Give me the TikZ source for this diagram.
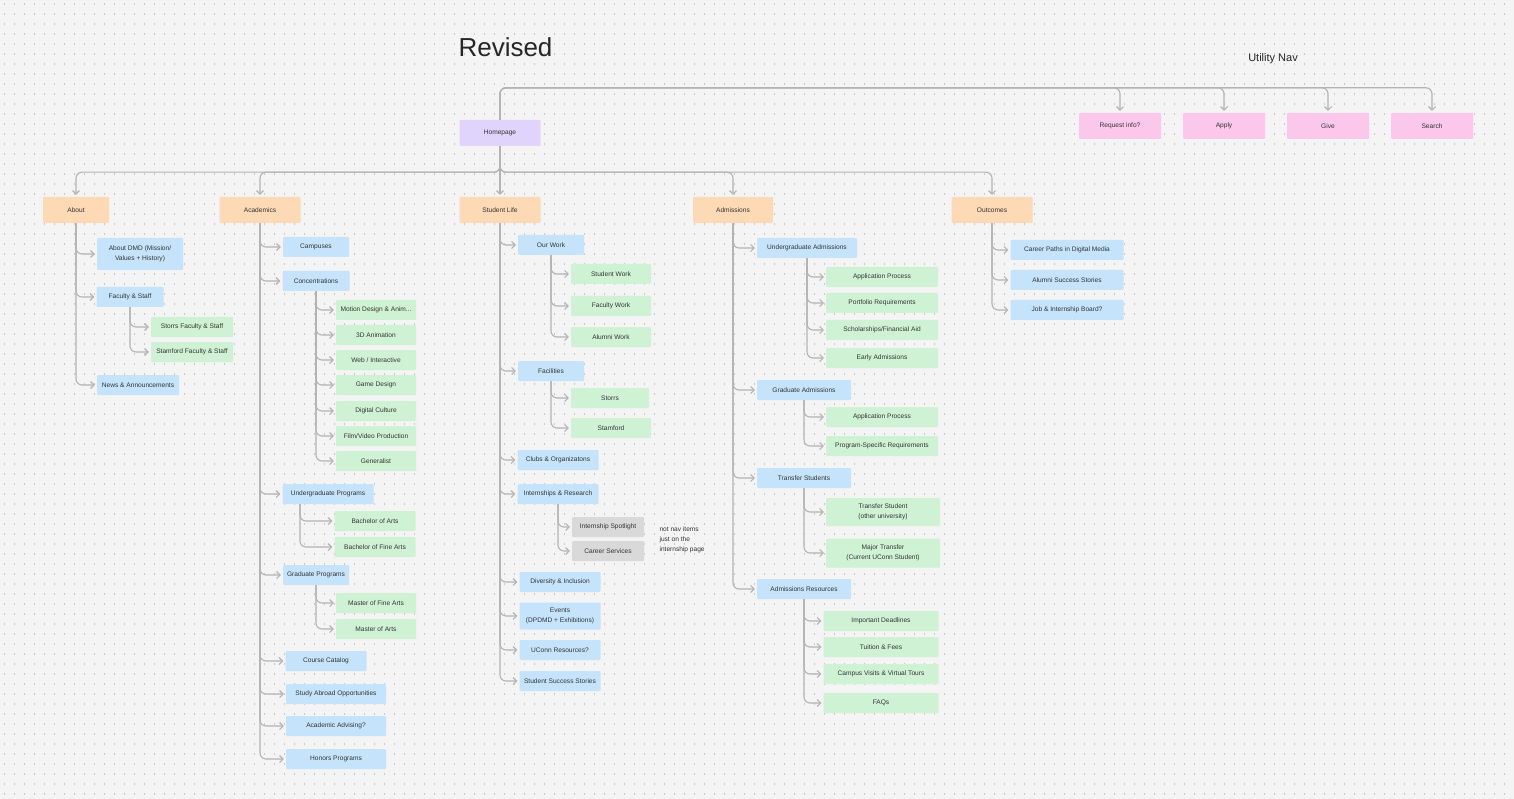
\documentclass[tikz,border=0pt]{standalone}
\usepackage{fontspec}
\setmainfont{Liberation Sans}
\usetikzlibrary{arrows.meta}
\definecolor{bg}{HTML}{F4F4F4}
\definecolor{dotc}{HTML}{C9C9C9}
\definecolor{purp}{HTML}{E0D4FC}
\definecolor{pinkc}{HTML}{FBC8EC}
\definecolor{orng}{HTML}{FDD9B5}
\definecolor{blu}{HTML}{C5E4FB}
\definecolor{grn}{HTML}{CFF2D4}
\definecolor{gry}{HTML}{D9D9D9}
\definecolor{linec}{HTML}{B3B3B3}
\definecolor{txt}{HTML}{333333}
\begin{document}
\begin{tikzpicture}[x=1pt,y=-1pt,
 box/.style={fill=#1,rounded corners=1pt,inner sep=0pt,align=center,text=txt,font=\fontsize{6.6}{10}\selectfont,minimum height=20pt},
 w/.style={minimum width=#1pt},
 conn/.style={draw=linec,line width=1.1pt,rounded corners=6pt,-{Straight Barb[length=3.5pt,width=7pt]},shorten >=2pt}]
\useasboundingbox (0,0) rectangle (1514,799);
\fill[bg] (0,0) rectangle (1514,799);
\foreach \j in {0,...,79}{\draw[dotc,line width=1.1pt,dash pattern=on 1.1pt off 8.9pt] (3.5,\j*10+4) -- (1514,\j*10+4);}
\node[anchor=west,font=\fontsize{26}{30}\selectfont,text=black!85] (title) at (455,47) {Revised};
\node[font=\fontsize{11}{13}\selectfont,text=black!85] (unav) at (1273,59) {Utility Nav};
% top
\node[box=purp,w=81,minimum height=26pt] (home) at (500,133) {Homepage};
\node[box=pinkc,w=82,minimum height=26pt] (req) at (1120,126) {Request info?};
\node[box=pinkc,w=82,minimum height=26pt] (apply) at (1224,126) {Apply};
\node[box=pinkc,w=82,minimum height=26pt] (give) at (1328,126) {Give};
\node[box=pinkc,w=82,minimum height=26pt] (search) at (1432,126) {Search};
\foreach \n in {req,apply,give,search}{\draw[conn] (home.north) -- ++(0,-32) -| (\n.north);}
% level 1
\node[box=orng,w=66,minimum height=26pt] (about) at (76,210) {About};
\node[box=orng,w=81,minimum height=26pt] (acad) at (260,210) {Academics};
\node[box=orng,w=81,minimum height=26pt] (sl) at (500,210) {Student Life};
\node[box=orng,w=80,minimum height=26pt] (adm) at (733,210) {Admissions};
\node[box=orng,w=81,minimum height=26pt] (out) at (992,210) {Outcomes};
\foreach \n in {about,acad,sl,adm,out}{\draw[conn] (home.south) -- ++(0,26) -| (\n.north);}
% About
\node[box=blu,w=86,minimum height=32pt] (a1) at (140,254) {About DMD (Mission/\\Values + History)};
\node[box=blu,w=67] (a2) at (130,297) {Faculty \& Staff};
\node[box=grn,w=82] (a21) at (192,327) {Storrs Faculty \& Staff};
\node[box=grn,w=82] (a22) at (192,352) {Stamford Faculty \& Staff};
\node[box=blu,w=82] (a3) at (138,385) {News \& Announcements};
\foreach \n in {a1,a2,a3}{\draw[conn] (about.south) |- (\n.west);}
\foreach \n in {a21,a22}{\draw[conn] (a2.south) |- (\n.west);}
% Academics
\node[box=blu,w=66] (c1) at (316,247) {Campuses};
\node[box=blu,w=67] (c2) at (316,281) {Concentrations};
\node[box=grn,w=80] (c21) at (376,310) {Motion Design \& Anim...};
\node[box=grn,w=80] (c22) at (376,335) {3D Animation};
\node[box=grn,w=80] (c23) at (376,360) {Web / Interactive};
\node[box=grn,w=80] (c24) at (376,385) {Game Design};
\node[box=grn,w=80] (c25) at (376,411) {Digital Culture};
\node[box=grn,w=80] (c26) at (376,436) {Film/Video Production};
\node[box=grn,w=80] (c27) at (376,461) {Generalist};
\node[box=blu,w=91] (c3) at (328,494) {Undergraduate Programs};
\coordinate (c3t) at (300,504);
\node[box=grn,w=81] (c31) at (375,521) {Bachelor of Arts};
\node[box=grn,w=81] (c32) at (375,547) {Bachelor of Fine Arts};
\node[box=blu,w=66] (c4) at (316,575) {Graduate Programs};
\node[box=grn,w=80] (c41) at (376,603) {Master of Fine Arts};
\node[box=grn,w=80] (c42) at (376,629) {Master of Arts};
\node[box=blu,w=81] (c5) at (326,661) {Course Catalog};
\node[box=blu,w=100] (c6) at (336,694) {Study Abroad Opportunities};
\node[box=blu,w=100] (c7) at (336,726) {Academic Advising?};
\node[box=blu,w=100] (c8) at (336,759) {Honors Programs};
\foreach \n in {c1,c2,c3,c4,c5,c6,c7,c8}{\draw[conn] (acad.south) |- (\n.west);}
\foreach \n in {c21,c22,c23,c24,c25,c26,c27}{\draw[conn] (c2.south) |- (\n.west);}
\foreach \n in {c31,c32}{\draw[conn] (c3t) |- (\n.west);}
\foreach \n in {c41,c42}{\draw[conn] (c4.south) |- (\n.west);}
% Student Life
\node[box=blu,w=66] (s1) at (551,245) {Our Work};
\node[box=grn,w=80] (s11) at (611,274) {Student Work};
\node[box=grn,w=80] (s12) at (611,306) {Faculty Work};
\node[box=grn,w=80] (s13) at (611,337) {Alumni Work};
\node[box=blu,w=66] (s2) at (551,371) {Facilities};
\node[box=grn,w=78] (s21) at (610,398) {Storrs};
\node[box=grn,w=80] (s22) at (611,428) {Stamford};
\node[box=blu,w=81] (s3) at (558,460) {Clubs \& Organizatons};
\node[box=blu,w=81] (s4) at (558,494) {Internships \& Research};
\node[box=gry,w=72] (s41) at (608,527) {Internship Spotlight};
\node[box=gry,w=72] (s42) at (608,551) {Career Services};
\node[anchor=west,align=left,text=txt,font=\fontsize{6.6}{10}\selectfont] (note) at (656,540) {not nav items\\just on the\\internship page};
\node[box=blu,w=81] (s5) at (560,582) {Diversity \& Inclusion};
\node[box=blu,w=81,minimum height=27pt] (s6) at (560,616) {Events\\(DPDMD + Exhibitions)};
\node[box=blu,w=81] (s7) at (560,650) {UConn Resources?};
\node[box=blu,w=81] (s8) at (560,681) {Student Success Stories};
\foreach \n in {s1,s2,s3,s4,s5,s6,s7,s8}{\draw[conn] (sl.south) |- (\n.west);}
\foreach \n in {s11,s12,s13}{\draw[conn] (s1.south) |- (\n.west);}
\foreach \n in {s21,s22}{\draw[conn] (s2.south) |- (\n.west);}
\foreach \n in {s41,s42}{\draw[conn] (s4.south) |- (\n.west);}
% Admissions
\node[box=blu,w=100] (d1) at (807,248) {Undergraduate Admissions};
\node[box=grn,w=112] (d11) at (882,277) {Application Process};
\node[box=grn,w=112] (d12) at (882,303) {Portfolio Requirements};
\node[box=grn,w=112] (d13) at (882,330) {Scholarships/Financial Aid};
\node[box=grn,w=112] (d14) at (882,358) {Early Admissions};
\node[box=blu,w=94] (d2) at (804,390) {Graduate Admissions};
\node[box=grn,w=112] (d21) at (882,417) {Application Process};
\node[box=grn,w=112] (d22) at (882,446) {Program-Specific Requirements};
\node[box=blu,w=94] (d3) at (804,478) {Transfer Students};
\node[box=grn,w=114,minimum height=28pt] (d31) at (883,512) {Transfer Student\\(other university)};
\node[box=grn,w=114,minimum height=29pt] (d32) at (883,553) {Major Transfer\\(Current UConn Student)};
\node[box=blu,w=94] (d4) at (804,589) {Admissions Resources};
\node[box=grn,w=115] (d41) at (881,621) {Important Deadlines};
\node[box=grn,w=115] (d42) at (881,647) {Tuition \& Fees};
\node[box=grn,w=115] (d43) at (881,674) {Campus Visits \& Virtual Tours};
\node[box=grn,w=115] (d44) at (881,703) {FAQs};
\foreach \n in {d1,d2,d3,d4}{\draw[conn] (adm.south) |- (\n.west);}
\foreach \n in {d11,d12,d13,d14}{\draw[conn] (d1.south) |- (\n.west);}
\foreach \n in {d21,d22}{\draw[conn] (d2.south) |- (\n.west);}
\foreach \n in {d31,d32}{\draw[conn] (d3.south) |- (\n.west);}
\foreach \n in {d41,d42,d43,d44}{\draw[conn] (d4.south) |- (\n.west);}
% Outcomes
\node[box=blu,w=113] (o1) at (1067,250) {Career Paths in Digital Media};
\node[box=blu,w=113] (o2) at (1067,280) {Alumni Success Stories};
\node[box=blu,w=113] (o3) at (1067,310) {Job \& Internship Board?};
\foreach \n in {o1,o2,o3}{\draw[conn] (out.south) |- (\n.west);}
\end{tikzpicture}
\end{document}
